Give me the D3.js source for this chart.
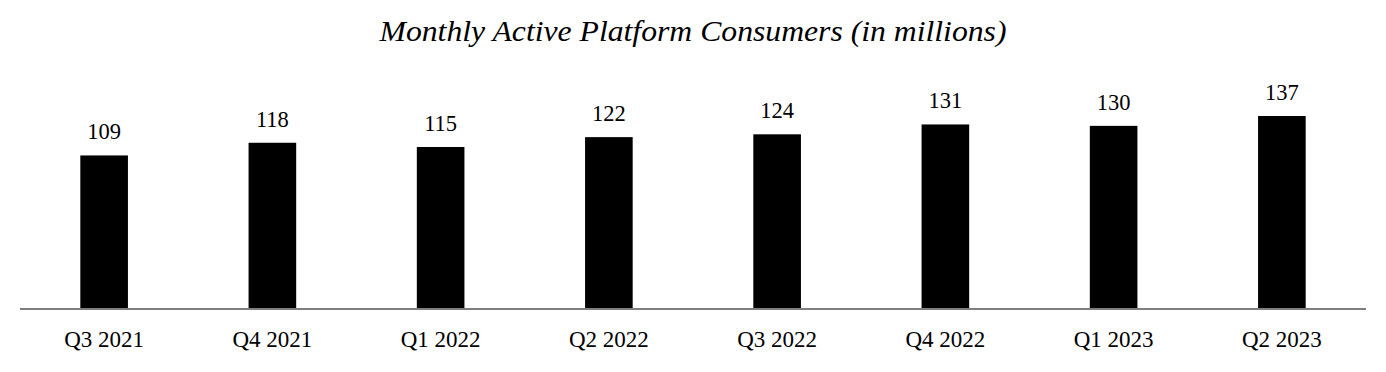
<!DOCTYPE html>
<html><head><meta charset="utf-8">
<script src="https://cdn.jsdelivr.net/npm/d3@7"></script>
<style>html,body{margin:0;padding:0;background:#fff;}</style>
</head><body>
<svg id="chart" width="1386" height="372"></svg>
<script>
const categories = ["Q3 2021","Q4 2021","Q1 2022","Q2 2022","Q3 2022","Q4 2022","Q1 2023","Q2 2023"];
const values = [109,118,115,122,124,131,130,137];
const title = "Monthly Active Platform Consumers (in millions)";

const svg = d3.select("#chart");
const font = "'Liberation Serif','Times New Roman',serif";
const baseY = 309;
const x = d3.scaleBand().domain(categories).range([20,1366]).paddingInner(0.717).paddingOuter(0.3585);
const y = d3.scaleLinear().domain([0,137]).range([baseY, 116]);

svg.append("text").attr("x",693).attr("y",41).attr("text-anchor","middle")
  .attr("font-family",font).attr("font-style","italic").attr("font-size",29.5).attr("fill","#000")
  .attr("textLength",627).attr("lengthAdjust","spacingAndGlyphs").text(title);

svg.selectAll("rect.bar").data(values).enter().append("rect").attr("class","bar")
  .attr("x",(d,i)=>x(categories[i])).attr("width",x.bandwidth())
  .attr("y",d=>y(d)).attr("height",d=>baseY-y(d)).attr("fill","#000");

svg.selectAll("text.val").data(values).enter().append("text").attr("class","val")
  .attr("x",(d,i)=>x(categories[i])+x.bandwidth()/2).attr("y",d=>y(d)-16)
  .attr("text-anchor","middle").attr("font-family",font).attr("font-size",22.5).attr("fill","#000").text(d=>d);

const axis = svg.append("g").attr("transform",`translate(0,${baseY})`)
  .call(d3.axisBottom(x).tickSize(0).tickPadding(0));
axis.select(".domain").attr("stroke","#7f7f7f").attr("stroke-width",2).attr("d","M20,0H1366");
axis.selectAll(".tick text").attr("font-family",font).attr("font-size",23).attr("fill","#000")
  .attr("dy",0).attr("y",38);
</script>
</body></html>
